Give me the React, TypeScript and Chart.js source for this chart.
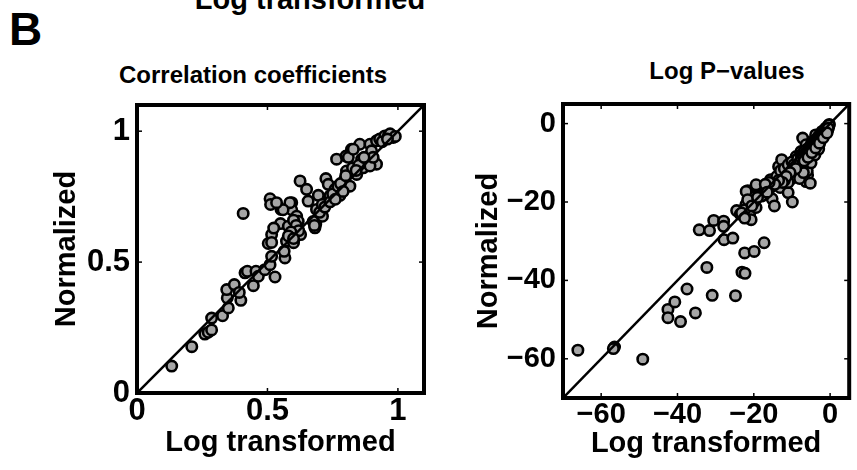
import React, { useEffect, useRef } from 'react';
import { Chart, registerables } from 'chart.js';
Chart.register(...registerables);

// ---------- Data ----------
// Panel 1: correlation coefficients (x = log transformed, y = normalized)
const ccLogT = [
  0.133, 0.21, 0.26, 0.273, 0.286, 0.286, 0.328, 0.35, 0.346, 0.344, 0.373, 0.398, 0.392,
  0.414, 0.423, 0.446, 0.456, 0.465, 0.49, 0.51, 0.516, 0.529, 0.503, 0.516, 0.407, 0.51,
  0.512, 0.552, 0.55, 0.567, 0.564, 0.573, 0.58, 0.593, 0.593, 0.6, 0.605, 0.612, 0.618,
  0.627, 0.625, 0.65, 0.656, 0.682, 0.685, 0.688, 0.695, 0.711, 0.724, 0.733, 0.727, 0.739,
  0.759, 0.765, 0.778, 0.797, 0.801, 0.803, 0.816, 0.822, 0.826, 0.842, 0.854, 0.861, 0.867,
  0.88, 0.893, 0.899, 0.905, 0.918, 0.918, 0.93, 0.95, 0.963, 0.982, 0.97, 0.99,
  0.586, 0.56, 0.535, 0.6, 0.61, 0.62, 0.59, 0.58, 0.6, 0.675, 0.68, 0.524, 0.516,
  0.7, 0.71, 0.72, 0.74, 0.75, 0.76, 0.77, 0.78, 0.79, 0.8, 0.81, 0.829, 0.88, 0.893,
  0.905, 0.85, 0.84, 0.87, 0.94, 0.96,
];
const ccNorm = [
  0.103, 0.177, 0.225, 0.232, 0.241, 0.286, 0.295, 0.325, 0.363, 0.395, 0.414, 0.354, 0.384,
  0.459, 0.465, 0.41, 0.465, 0.446, 0.471, 0.49, 0.522, 0.443, 0.571, 0.605, 0.686, 0.742,
  0.72, 0.701, 0.647, 0.516, 0.541, 0.58, 0.637, 0.727, 0.7, 0.574, 0.593, 0.675, 0.656,
  0.605, 0.81, 0.778, 0.733, 0.631, 0.645, 0.701, 0.755, 0.675, 0.819, 0.797, 0.727, 0.752,
  0.778, 0.893, 0.755, 0.816, 0.905, 0.848, 0.79, 0.931, 0.86, 0.835, 0.95, 0.893, 0.86,
  0.88, 0.95, 0.925, 0.89, 0.874, 0.963, 0.97, 0.982, 0.982, 0.976, 0.99, 0.98,
  0.727, 0.7, 0.727, 0.66, 0.64, 0.62, 0.615, 0.6, 0.59, 0.655, 0.64, 0.63, 0.575,
  0.69, 0.72, 0.71, 0.73, 0.76, 0.74, 0.79, 0.8, 0.77, 0.83, 0.9, 0.931, 0.886, 0.867,
  0.9, 0.87, 0.85, 0.9, 0.96, 0.97,
];
const ccTicks = [0, 0.5, 1];
const ccRange = [0, 1.1];

// Panel 2: log P-values
const lpLogT = [
  -66.1, -56.5, -56.8, -49.1, -42.5, -42.5, -40.7, -39.2, -37.5, -35.3, -32.3, -30.9, -34.3,
  -31.6, -30.5, -27.9, -27.9, -27.8, -25.5, -24.8, -24.5, -23.5, -23.1, -22.3, -22.4, -19.9,
  -17.3, -21.6, -21.1, -20.7, -21.1, -20.7, -22.1, -22.4, -23.2, -19.4, -18.8, -17.8, -16.9,
  -15.6, -14.8, -15.2, -14.6, -13.1, -11, -9.9, -22.4, -22, -19.9, -21.6, -19.4, -17.3,
  -15.6, -13.5, -12.7, -12.2, -11.4, -10.5, -9.7, -8.9, -7.6, -7.2, -8, -6.7, -7.2,
  -6.3, -5.4, -5.9, -6.3, -5.2, -4.6, -3.8, -2.9, -2.1, -1.2, -0.4, -4.2, -3.3,
  -9, -8, -7, -6, -5, -4, -3, -2.5, -1.8, -1, -0.5, -0.2, -1.5, -2, -3.5, -4.5, -5.5,
  -6.5, -8.5, -9.5, -10, -11, -12, -6, -5, -4, -3, -8, -7,
  -14, -13, -12, -11, -10, -9.5, -8.5, -7.5, -6.8, -6, -5.2, -4.8, -4.2, -3.6, -3.2, -2.6,
  -2.2, -1.6, -1.3, -0.8, -0.3, -0.6, -1.1, -2.4, -3.8, -5, -6.2, -7.8, -9, -10.5, -11.5,
  -12.5, -13.5, -14.5, -16, -17, -18, -16.5, -20.5, -19,
  -7.5, -7, -6.5, -6, -5.5, -5, -4.5, -4, -3.5, -3, -2.5, -2, -1.5, -1, -0.5,
  -6.8, -5.8, -4.8, -3.8, -2.8, -1.8, -0.8,
];
const lpNorm = [
  -57.8, -57, -57.4, -60.1, -47.4, -49.5, -45.5, -50.5, -42.2, -48.3, -36.7, -43.8, -27.1,
  -27.3, -24.7, -24.9, -26.2, -29.6, -29.2, -43.9, -22.2, -23.1, -37.9, -38.2, -33, -32.6,
  -30.4, -17.1, -18.6, -19.9, -23.2, -24.5, -20.7, -22, -22.8, -21.4, -16.3, -17.6, -16.8,
  -16.3, -15.5, -19.2, -21, -16.3, -17.6, -20, -24.1, -17.3, -19.9, -19.4, -15.6, -18.2,
  -14.3, -11, -9.2, -13.1, -12.2, -10.1, -9.7, -8.4, -7.1, -9.7, -12.2, -11, -3.7,
  -5.4, -7.5, -13.1, -14.8, -15.2, -4.6, -2.9, -5.4, -2, -1.2, -0.8, -6.7, -6.3,
  -9.5, -8.5, -7.8, -6.5, -5.5, -4.3, -3.2, -2.8, -2, -1.2, -0.6, -0.2, -2.5, -3.5, -4.8, -6, -8,
  -9, -11, -13, -14, -15, -14.5, -12, -10, -8, -6.5, -14, -12.5,
  -13.5, -12, -11.5, -10.5, -9.8, -10.5, -9, -8, -7, -7.2, -6, -5, -4.8, -4, -3.8, -3,
  -2.5, -1.8, -1.6, -1, -0.4, -1.6, -2.2, -4.2, -5.6, -7, -8.2, -10, -11.5, -12.5, -13.5,
  -15, -14.5, -15.5, -15, -15.5, -18.5, -17.5, -21, -18.8,
  -8.8, -8.2, -7.5, -7.3, -6.8, -6.3, -5.6, -5.5, -4.4, -4.2, -3.6, -2.8, -2.2, -1.9, -1.2,
  -9.5, -8.6, -7.4, -6.2, -5, -3.6, -2.4,
];
const lpTicks = [-60, -40, -20, 0];
const lpRange = [-70, 5];

const panelTitles = ['Correlation coefficients', 'Log P\u2212values'];
const xAxisTitle = 'Log transformed';
const yAxisTitle = 'Normalized';
const panelLetter = 'B';
const aboveText = 'Log transformed';

const FONT = "'Liberation Sans', Arial, Helvetica, sans-serif";
const fmt = (v: number) => (v < 0 ? '\u2212' + Math.abs(v) : String(v));

const framePlugin = {
  id: 'frame',
  afterDatasetsDraw(chart: any) {
    const { ctx, chartArea: a, scales } = chart;
    ctx.save();
    ctx.strokeStyle = '#000';
    const seg = (x1: number, y1: number, x2: number, y2: number) => {
      ctx.beginPath();
      ctx.moveTo(x1, y1);
      ctx.lineTo(x2, y2);
      ctx.stroke();
    };
    ctx.lineWidth = 1.5;
    const tl = 5;
    scales.x.ticks.forEach((t: any) => {
      const p = scales.x.getPixelForValue(t.value);
      seg(p, a.bottom, p, a.bottom - tl);
      seg(p, a.top, p, a.top + tl);
    });
    scales.y.ticks.forEach((t: any) => {
      const p = scales.y.getPixelForValue(t.value);
      seg(a.left, p, a.left + tl, p);
      seg(a.right, p, a.right - tl, p);
    });
    ctx.lineWidth = 4;
    ctx.strokeRect(a.left, a.top, a.right - a.left, a.bottom - a.top);
    ctx.restore();
  },
};

type PanelProps = {
  xs: number[];
  ys: number[];
  ticks: number[];
  range: number[];
  left: number;
  top: number;
  width: number;
  height: number;
  pad: { left: number; top: number; right: number; bottom: number };
  yWidth: number;
  xHeight: number;
  yTitlePad: number;
  xTitlePad: number;
  tickSize: number;
};

function Panel(p: PanelProps) {
  const ref = useRef<HTMLCanvasElement>(null);
  useEffect(() => {
    if (!ref.current) return;
    const pts = p.xs.map((x, i) => ({ x, y: p.ys[i] }));
    const tickFont = { family: FONT, size: p.tickSize, weight: 'bold' as const };
    const titleFont = { family: FONT, size: 29, weight: 'bold' as const };
    const chart = new Chart(ref.current, {
      type: 'scatter',
      data: {
        datasets: [
          {
            type: 'line',
            data: [
              { x: p.range[0], y: p.range[0] },
              { x: p.range[1], y: p.range[1] },
            ],
            borderColor: '#000',
            borderWidth: 2.5,
            pointRadius: 0,
            fill: false,
          } as any,
          {
            data: pts,
            backgroundColor: '#a6a6a6',
            borderColor: '#000',
            borderWidth: 2.6,
            pointRadius: 5.2,
          },
        ],
      },
      options: {
        responsive: false,
        animation: false,
        events: [],
        layout: { padding: p.pad },
        plugins: { legend: { display: false }, tooltip: { enabled: false }, title: { display: false } },
        scales: {
          x: {
            type: 'linear',
            min: p.range[0],
            max: p.range[1],
            afterBuildTicks: (s: any) => {
              s.ticks = p.ticks.map((v) => ({ value: v }));
            },
            afterFit: (s: any) => {
              s.height = p.xHeight;
              s.paddingLeft = 0;
              s.paddingRight = 0;
            },
            grid: { display: false, drawTicks: false },
            border: { display: false },
            ticks: {
              callback: (v: any) => fmt(Number(v)),
              font: tickFont,
              color: '#000',
              padding: 0,
              maxRotation: 0,
              autoSkip: false,
            },
            title: {
              display: true,
              text: xAxisTitle,
              font: titleFont,
              color: '#000',
              padding: { top: 0, bottom: p.xTitlePad },
            },
          },
          y: {
            type: 'linear',
            min: p.range[0],
            max: p.range[1],
            afterBuildTicks: (s: any) => {
              s.ticks = p.ticks.map((v) => ({ value: v }));
            },
            afterFit: (s: any) => {
              s.width = p.yWidth;
              s.paddingTop = 0;
              s.paddingBottom = 0;
            },
            grid: { display: false, drawTicks: false },
            border: { display: false },
            ticks: {
              callback: (v: any) => fmt(Number(v)),
              font: tickFont,
              color: '#000',
              padding: 7,
              autoSkip: false,
            },
            title: {
              display: true,
              text: yAxisTitle,
              font: titleFont,
              color: '#000',
              padding: { top: p.yTitlePad, bottom: 0 },
            },
          },
        },
      },
      plugins: [framePlugin],
    });
    return () => chart.destroy();
  }, []);
  return (
    <canvas
      ref={ref}
      width={p.width}
      height={p.height}
      style={{ position: 'absolute', left: p.left, top: p.top, width: p.width, height: p.height }}
    />
  );
}

const textBase: React.CSSProperties = {
  position: 'absolute',
  fontFamily: FONT,
  fontWeight: 'bold',
  color: '#000',
  whiteSpace: 'nowrap',
  lineHeight: 1,
};

export default function App() {
  return (
    <div
      style={{
        position: 'absolute',
        left: 0,
        top: 0,
        width: 857,
        height: 470,
        overflow: 'hidden',
        background: '#fff',
      }}
    >
      <div style={{ ...textBase, fontSize: 29, left: 310, top: -15, transform: 'translateX(-50%)' }}>{aboveText}</div>
      <div style={{ ...textBase, fontSize: 46, left: 9, top: 6 }}>{panelLetter}</div>
      <div style={{ ...textBase, fontSize: 24, left: 253, top: 63, transform: 'translateX(-50%)' }}>{panelTitles[0]}</div>
      <div style={{ ...textBase, fontSize: 24, left: 727, top: 59, transform: 'translateX(-50%)' }}>{panelTitles[1]}</div>
      <Panel
        xs={ccLogT}
        ys={ccNorm}
        ticks={ccTicks}
        range={ccRange}
        left={40}
        top={90}
        width={400}
        height={380}
        pad={{ left: 0, top: 15, right: 16, bottom: 0 }}
        yWidth={97}
        xHeight={77}
        yTitlePad={10}
        xTitlePad={10}
        tickSize={31}
      />
      <Panel
        xs={lpLogT}
        ys={lpNorm}
        ticks={lpTicks}
        range={lpRange}
        left={460}
        top={90}
        width={397}
        height={380}
        pad={{ left: 0, top: 14, right: 2, bottom: 0 }}
        yWidth={103}
        xHeight={72}
        yTitlePad={12}
        xTitlePad={9}
        tickSize={29}
      />
    </div>
  );
}
